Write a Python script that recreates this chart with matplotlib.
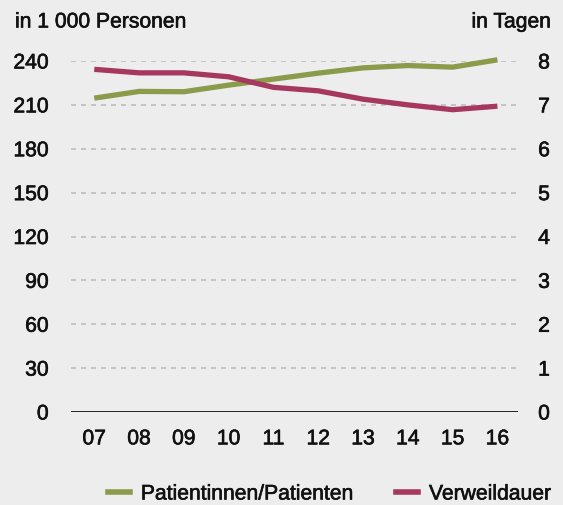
import matplotlib
matplotlib.use("Agg")
import matplotlib.pyplot as plt
import matplotlib.patheffects as pe
from matplotlib.lines import Line2D

years = ["07", "08", "09", "10", "11", "12", "13", "14", "15", "16"]
patienten = [214.6, 219.2, 219.0, 223.5, 227.6, 231.7, 235.3, 236.9, 235.8, 240.8]
verweildauer = [7.81, 7.73, 7.73, 7.64, 7.40, 7.32, 7.13, 7.00, 6.89, 6.97]
left_ticks = [0, 30, 60, 90, 120, 150, 180, 210, 240]
right_ticks = [0, 1, 2, 3, 4, 5, 6, 7, 8]

BG = "#ecedec"
GREEN = "#8a9b4b"
RED = "#a6375e"
FS = 15.2
PE = [pe.withStroke(linewidth=0.45, foreground="#111111")]

plt.rcParams['font.family'] = ['Liberation Sans', 'DejaVu Sans']
plt.rcParams['text.color'] = '#111111'

W, H = 563, 506
fig = plt.figure(figsize=(W/100, H/100), dpi=100, facecolor=BG)
x0, x1, ytop, ybot = 71, 518, 62, 413
ax = fig.add_axes([x0/W, 1-ybot/H, (x1-x0)/W, (ybot-ytop)/H])
ax.set_facecolor(BG)
ax2 = ax.twinx()

xs = list(range(len(years)))
ax.set_xlim(-0.52, len(years)-1+0.46)
ax.set_ylim(0, 240)
ax2.set_ylim(0, 8)

for t in left_ticks[1:]:
    ax.axhline(t, color="#bdbdbd", lw=1.2, ls=(0, (3, 3)), zorder=1)
ax.axhline(0, color="black", lw=1.2, zorder=2)

ax.plot(xs, patienten, color=GREEN, lw=3.8, solid_capstyle='butt', zorder=3, clip_on=False)
ax2.plot(xs, verweildauer, color=RED, lw=3.8, solid_capstyle='butt', zorder=3, clip_on=False)

for a in (ax, ax2):
    for s in a.spines.values():
        s.set_visible(False)

ax.set_yticks(left_ticks)
ax.set_yticklabels([str(t) for t in left_ticks], fontsize=FS, color='#111111')
ax.tick_params(axis='y', length=0, pad=16)
ax2.set_yticks(right_ticks)
ax2.set_yticklabels([str(t) for t in right_ticks], fontsize=FS, color='#111111')
ax2.tick_params(axis='y', length=0, pad=14.5)
ax.set_xticks(xs)
ax.set_xticklabels(years, fontsize=FS, color='#111111')
ax.tick_params(axis='x', length=0, pad=12.5)

texts = list(ax.get_yticklabels()) + list(ax2.get_yticklabels()) + list(ax.get_xticklabels())
texts.append(fig.text(15/W, 1-23/H, "in 1 000 Personen", fontsize=FS, ha='left', va='center'))
texts.append(fig.text(551/W, 1-23/H, "in Tagen", fontsize=FS, ha='right', va='center'))

handles = [Line2D([], [], color=GREEN, lw=4.0), Line2D([], [], color=RED, lw=4.0)]
leg = fig.legend(handles, ["Patientinnen/Patienten", "Verweildauer"], loc='center right',
                 bbox_to_anchor=(551/W, 1-495/H), ncol=2, frameon=False, fontsize=FS,
                 handlelength=1.04, handletextpad=0.52, columnspacing=2.0,
                 borderpad=0, borderaxespad=0)
texts += list(leg.get_texts())
for t in texts:
    t.set_path_effects(PE)

fig.savefig("out.png", dpi=100, facecolor=BG)
